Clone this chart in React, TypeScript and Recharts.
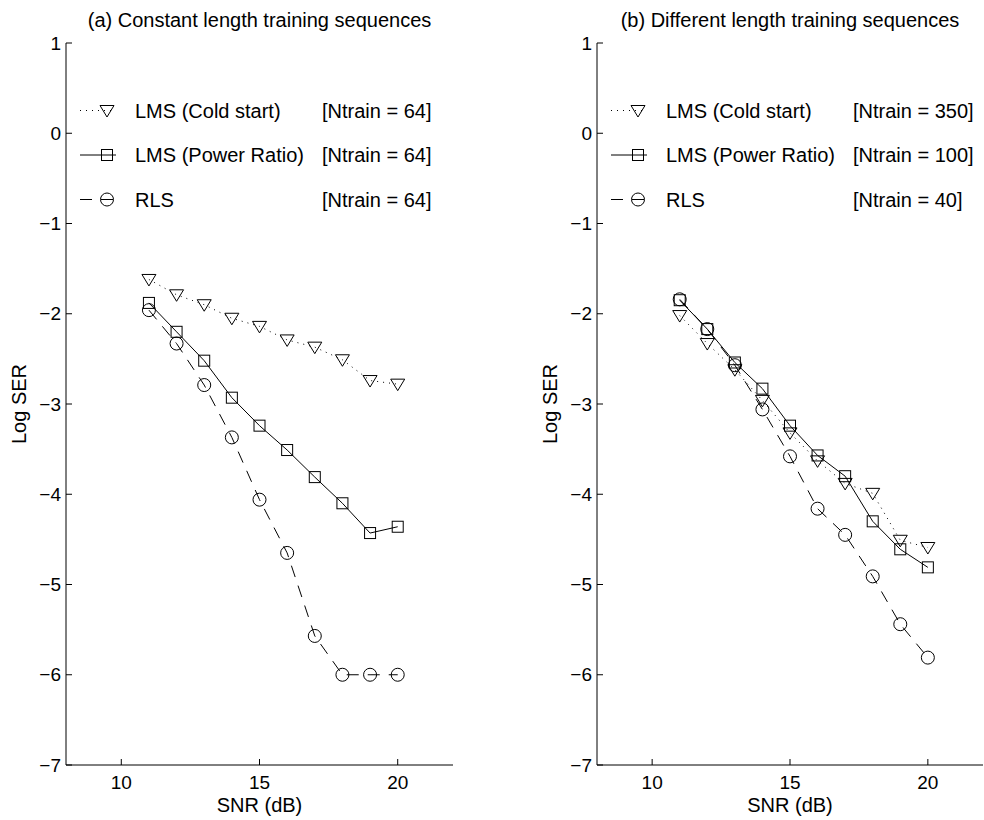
import { LineChart, Line, XAxis, YAxis, Legend } from "recharts"

// SNR points (dB)
const snr = [11, 12, 13, 14, 15, 16, 17, 18, 19, 20]

// (a) constant length training sequences, log10 SER
const coldA = [-1.62, -1.79, -1.9, -2.05, -2.14, -2.29, -2.37, -2.51, -2.74, -2.78]
const powerA = [-1.88, -2.2, -2.52, -2.93, -3.24, -3.51, -3.81, -4.1, -4.43, -4.36]
const rlsA = [-1.96, -2.33, -2.79, -3.37, -4.06, -4.65, -5.57, -6.0, -6.0, -6.0]

// (b) different length training sequences
const coldB = [-2.02, -2.33, -2.62, -2.96, -3.32, -3.63, -3.88, -3.99, -4.51, -4.59]
const powerB = [-1.85, -2.17, -2.54, -2.83, -3.24, -3.57, -3.8, -4.3, -4.61, -4.81]
const rlsB = [-1.84, -2.17, -2.57, -3.06, -3.58, -4.16, -4.45, -4.91, -5.44, -5.81]

const seriesNames = ["LMS (Cold start)", "LMS (Power Ratio)", "RLS"]
const ntrainA = [64, 64, 64]
const ntrainB = [350, 100, 40]
const titles = ["(a) Constant length training sequences", "(b) Different length training sequences"]

const xTicks = [10, 15, 20]
const yTicks = [1, 0, -1, -2, -3, -4, -5, -6, -7]

const FONT = "'Liberation Sans', Arial, Helvetica, sans-serif"

const dashes: Record<string, string | undefined> = { cold: "1 5", power: undefined, rls: "12 9" }
const markers: Record<string, string> = { cold: "tri", power: "sq", rls: "circ" }

function makeRows(cold: number[], power: number[], rls: number[]) {
  return snr.map((s, i) => ({ snr: s, cold: cold[i], power: power[i], rls: rls[i] }))
}

function Marker({ kind, cx, cy }: { kind: string; cx: number; cy: number }) {
  if (kind === "tri")
    return (
      <polygon
        points={`${cx - 7},${cy - 5} ${cx + 7},${cy - 5} ${cx},${cy + 6.5}`}
        fill="none"
        stroke="#000"
        strokeWidth={1}
      />
    )
  if (kind === "sq")
    return <rect x={cx - 5.5} y={cy - 5.5} width={11} height={11} fill="none" stroke="#000" strokeWidth={1} />
  return <circle cx={cx} cy={cy} r={6.5} fill="none" stroke="#000" strokeWidth={1} />
}

const dotFor = (kind: string) => (props: any) =>
  <Marker key={`${kind}-${props.index}`} kind={kind} cx={props.cx} cy={props.cy} />

function LegendBox({ payload, ntrain }: { payload?: any[]; ntrain: number[] }) {
  return (
    <svg width={390} height={134} style={{ display: "block", fontFamily: FONT }}>
      {(payload ?? []).map((entry: any, i: number) => {
        const key = entry.dataKey as string
        const y = 22.5 + i * 44.5
        return (
          <g key={key}>
            <line x1={14} x2={50} y1={y} y2={y} stroke="#000" strokeWidth={1} strokeDasharray={dashes[key]} />
            <Marker kind={markers[key]} cx={41} cy={y} />
            <text x={69} y={y + 7} fontSize={20} fill="#000">
              {entry.value}
            </text>
            <text x={256} y={y + 7} fontSize={20} fill="#000">
              {`[Ntrain = ${ntrain[i]}]`}
            </text>
          </g>
        )
      })}
    </svg>
  )
}

function YTitle(props: any) {
  const vb = props.viewBox
  const x = vb.x + vb.width - 40
  const y = vb.y + vb.height / 2
  return (
    <text x={x} y={y} transform={`rotate(-90 ${x} ${y})`} textAnchor="middle" fontSize={20} fontFamily={FONT} fill="#000">
      Log SER
    </text>
  )
}

function XTitle(props: any) {
  const vb = props.viewBox
  return (
    <text x={vb.x + vb.width / 2} y={vb.y + 47} textAnchor="middle" fontSize={20} fontFamily={FONT} fill="#000">
      SNR (dB)
    </text>
  )
}

const fmtY = (v: number) => (v < 0 ? `\u2212${Math.abs(v)}` : String(v))

function Panel({
  rows,
  ntrain,
  width,
  marginLeft,
  marginRight,
}: {
  rows: any[]
  ntrain: number[]
  width: number
  marginLeft: number
  marginRight: number
}) {
  const tickStyle = { fill: "#000", fontSize: 19, fontFamily: FONT }
  return (
    <LineChart
      width={width}
      height={820}
      data={rows}
      margin={{ top: 43, right: marginRight, bottom: 5, left: marginLeft }}
    >
      <XAxis
        type="number"
        dataKey="snr"
        domain={[8, 22]}
        ticks={xTicks}
        interval={0}
        allowDataOverflow
        height={50}
        tick={tickStyle}
        tickSize={-6}
        tickMargin={16.5}
        axisLine={{ stroke: "#000" }}
        tickLine={{ stroke: "#000" }}
        label={<XTitle />}
      />
      <YAxis
        type="number"
        domain={[-7, 1]}
        ticks={yTicks}
        interval={0}
        allowDataOverflow
        width={50}
        tick={tickStyle}
        tickFormatter={fmtY}
        tickSize={-6}
        tickMargin={11}
        axisLine={{ stroke: "#000" }}
        tickLine={{ stroke: "#000" }}
        label={<YTitle />}
      />
      <Legend
        layout="vertical"
        align="center"
        verticalAlign="middle"
        wrapperStyle={{ position: "absolute", top: 88, left: marginLeft + 50, width: 390 }}
        content={(p: any) => <LegendBox payload={p.payload} ntrain={ntrain} />}
      />
      <Line
        type="linear"
        dataKey="cold"
        name={seriesNames[0]}
        stroke="#000"
        strokeWidth={1}
        strokeDasharray={dashes.cold}
        dot={dotFor("tri")}
        activeDot={false}
        isAnimationActive={false}
      />
      <Line
        type="linear"
        dataKey="power"
        name={seriesNames[1]}
        stroke="#000"
        strokeWidth={1}
        dot={dotFor("sq")}
        activeDot={false}
        isAnimationActive={false}
      />
      <Line
        type="linear"
        dataKey="rls"
        name={seriesNames[2]}
        stroke="#000"
        strokeWidth={1}
        strokeDasharray={dashes.rls}
        dot={dotFor("circ")}
        activeDot={false}
        isAnimationActive={false}
      />
    </LineChart>
  )
}

const titleStyle = {
  position: "absolute" as const,
  top: 10,
  lineHeight: "20px",
  fontSize: 20,
  fontFamily: FONT,
  textAlign: "center" as const,
  color: "#000",
}

export default function App() {
  return (
    <div style={{ position: "fixed", left: 0, top: 0, width: 984, height: 820, background: "#fff", overflow: "hidden" }}>
      <div style={{ position: "absolute", left: 0, top: 0 }}>
        <Panel rows={makeRows(coldA, powerA, rlsA)} ntrain={ntrainA} width={470} marginLeft={16} marginRight={17} />
      </div>
      <div style={{ position: "absolute", left: 490, top: 0 }}>
        <Panel rows={makeRows(coldB, powerB, rlsB)} ntrain={ntrainB} width={494} marginLeft={57} marginRight={1} />
      </div>
      <div style={{ ...titleStyle, left: 66, width: 387 }}>{titles[0]}</div>
      <div style={{ ...titleStyle, left: 597, width: 386 }}>{titles[1]}</div>
    </div>
  )
}
